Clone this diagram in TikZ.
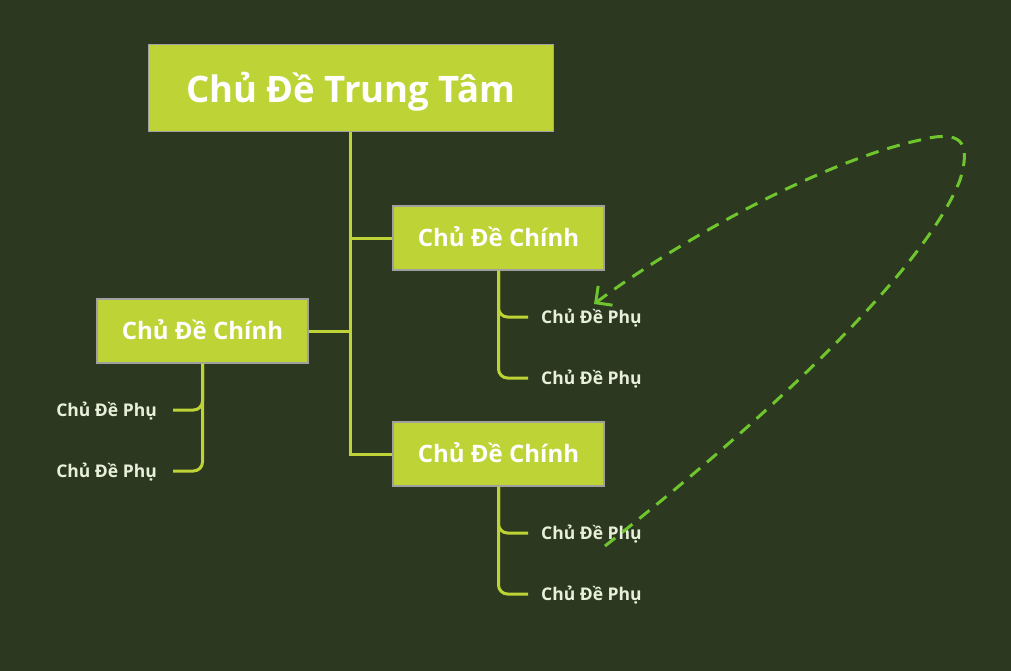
\documentclass[tikz,border=0pt]{standalone}
\usepackage{fontspec}
\setmainfont{Open Sans}
\usetikzlibrary{arrows.meta}
\definecolor{bg}{HTML}{2C3820}
\definecolor{boxfill}{HTML}{BED335}
\definecolor{boxline}{HTML}{A0A0A0}
\definecolor{subtext}{HTML}{E8F0DC}
\definecolor{loopgreen}{HTML}{6FC52E}
\begin{document}
\begin{tikzpicture}[x=1pt,y=-1pt,
  central/.style={draw=boxline,line width=1pt,fill=boxfill,minimum width=405pt,minimum height=87pt,inner sep=0pt,
    text height=29pt,text depth=0pt,
    font=\bfseries\fontsize{36.5}{42}\selectfont,text=white},
  mainbox/.style={draw=boxline,line width=1.3pt,fill=boxfill,minimum width=211pt,minimum height=64pt,inner sep=0pt,
    text height=16pt,text depth=0pt,
    font=\bfseries\fontsize{24}{28}\selectfont,text=white},
  subr/.style={anchor=west,inner xsep=13pt,inner ysep=0pt,text height=12pt,text depth=0pt,text=subtext,font=\bfseries\fontsize{17.5}{20}\selectfont},
  subl/.style={anchor=east,inner xsep=16pt,inner ysep=0pt,text height=12pt,text depth=0pt,text=subtext,font=\bfseries\fontsize{17.5}{20}\selectfont},
  conn/.style={draw=boxfill,line width=3pt},
  subconn/.style={draw=boxfill,line width=3pt,rounded corners=9pt},
  loop/.style={draw=loopgreen,line width=3pt,dash pattern=on 13pt off 9pt,-{Straight Barb[length=12pt,width=24pt,line width=3pt]}}
]
\useasboundingbox[fill=bg] (0,0) rectangle (1011,671);

\node[central] (c) at (350.5,88.5) {Chủ Đề Trung Tâm};
\node[mainbox] (b1) at (498.5,238) {Chủ Đề Chính};
\node[mainbox] (b2) at (202.5,331) {Chủ Đề Chính};
\node[mainbox] (b3) at (498.5,454) {Chủ Đề Chính};

\node[subr] (s11) at (528,317) {Chủ Đề Phụ};
\node[subr] (s12) at (528,378) {Chủ Đề Phụ};
\node[subr] (s31) at (528,533) {Chủ Đề Phụ};
\node[subr] (s32) at (528,594) {Chủ Đề Phụ};
\node[subl] (s21) at (173,410) {Chủ Đề Phụ};
\node[subl] (s22) at (173,471) {Chủ Đề Phụ};

\draw[conn] (c.south) |- (b1.west);
\draw[conn] (c.south) |- (b3.west);
\draw[conn] (b2.east) -- (b2.east -| c.south);

\draw[subconn] (b1.south) |- (s11.west);
\draw[subconn] (b1.south) |- (s12.west);
\draw[subconn] (b3.south) |- (s31.west);
\draw[subconn] (b3.south) |- (s32.west);
\draw[subconn] (b2.south) |- (s21.east);
\draw[subconn] (b2.south) |- (s22.east);

\coordinate (ls) at (605,546);
\coordinate (lm1) at (960,180);
\coordinate (lm2) at (920,140);
\coordinate (le) at (594,304);
\draw[loop] (ls) .. controls (790,400) and (928,262) .. (lm1)
  .. controls (972,140) and (960,130) .. (lm2)
  .. controls (820,162) and (680,240) .. (le);
\end{tikzpicture}
\end{document}
